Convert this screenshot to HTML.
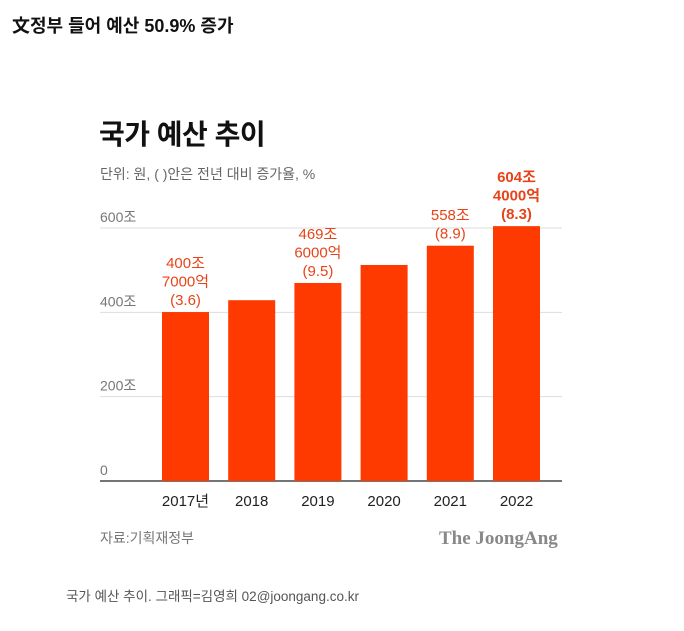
<!DOCTYPE html>
<html><head><meta charset="utf-8"><style>
body{margin:0;background:#fff;width:684px;height:631px;overflow:hidden;font-family:"Liberation Sans","Noto Sans CJK KR",sans-serif;position:relative}
.a{position:absolute;white-space:nowrap}
</style></head><body>
<div class="a" style="left:12px;top:12px;font-size:18px;font-weight:bold;color:#111">文정부 들어 예산 50.9% 증가</div>
<div class="a" style="left:99px;top:113px;font-size:28px;font-weight:bold;color:#111;letter-spacing:-0.5px">국가 예산 추이</div>
<div class="a" style="left:100px;top:164px;font-size:14px;color:#666">단위: 원, ( )안은 전년 대비 증가율, %</div>
<svg class="a" style="left:0;top:0" width="684" height="631">
<g id="grid"></g><g id="bars"></g><g id="labels"></g>
</svg>
<div class="a" style="left:100px;top:528px;font-size:14px;color:#777">자료:기획재정부</div>
<div class="a" style="left:439px;top:528px;font-size:19px;font-weight:bold;color:#888;font-family:'Liberation Serif',serif">The JoongAng</div>
<div class="a" style="left:66px;top:585px;font-size:13.5px;color:#555">국가 예산 추이. 그래픽=김영희 02@joongang.co.kr</div>
<script>
const categories=["2017년","2018","2019","2020","2021","2022"];
const values=[400.7,428.8,469.6,512.3,558,604.4];
const valueLabels=[["400조","7000억","(3.6)"],[],["469조","6000억","(9.5)"],[],["558조","(8.9)"],["604조","4000억","(8.3)"]];
const ticks=[0,200,400,600];
const tickLabels=["0","200조","400조","600조"];
const NS="http://www.w3.org/2000/svg";
const y0=481,k=(481-228)/600;
const y=v=>y0-v*k;
const x=i=>162+i*66.2;
const bw=47;
function mk(t,a,p){const e=document.createElementNS(NS,t);for(const q in a)e.setAttribute(q,a[q]);p.appendChild(e);return e;}
const G=document.getElementById('grid'),B=document.getElementById('bars'),L=document.getElementById('labels');
ticks.forEach((t,i)=>{
 const ln=mk('line',{x1:100,x2:562,y1:y(t),y2:y(t),stroke:t===0?'#222':'#ddd','stroke-width':t===0?1.3:1},G);
 
 
 const tx=mk('text',{x:100,y:y(t)-6,'font-size':14,fill:'#777'},G);
 tx.textContent=tickLabels[i];
 
 
});
values.forEach((v,i)=>{
 const r=mk('rect',{x:x(i),y:y(v),width:bw,height:y0-y(v),fill:'#ff3a00'},B);
 
 
 const c=mk('text',{x:x(i)+bw/2,y:506,'font-size':15,fill:'#222','text-anchor':'middle'},L);
 c.textContent=categories[i];
 
 
 const lines=valueLabels[i];
 lines.forEach((s,j)=>{
  const t=mk('text',{x:x(i)+bw/2,y:y(v)-7-(lines.length-1-j)*18.5,'font-size':15,fill:'#e8441a','text-anchor':'middle','font-weight':i===5?'bold':'normal'},L);
  t.textContent=s;
  
  
 });
});
</script>
</body></html>
